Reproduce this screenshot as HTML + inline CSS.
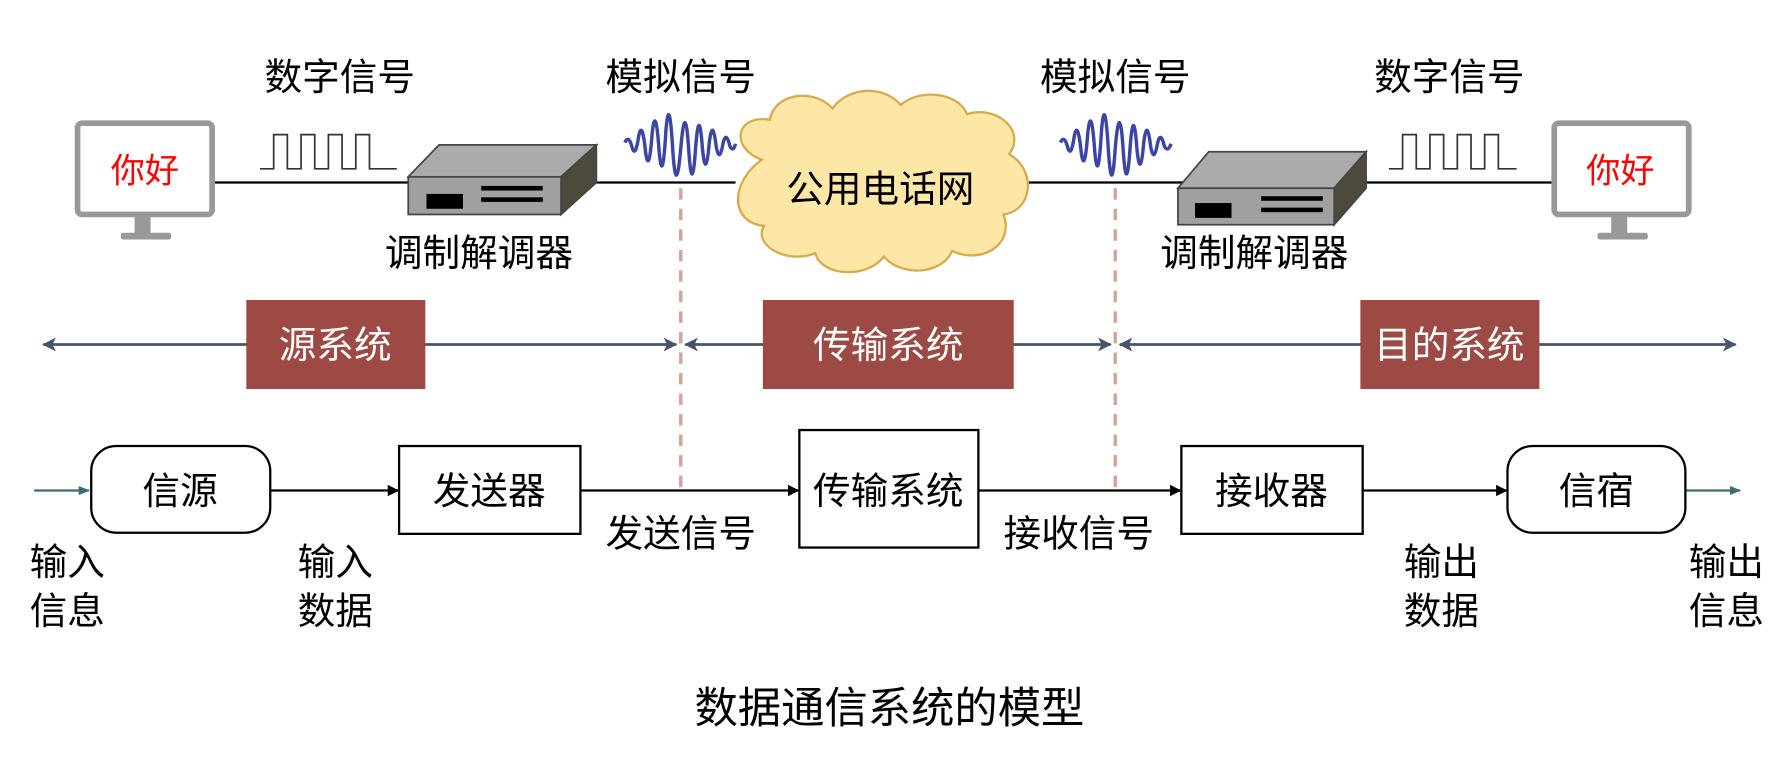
<!DOCTYPE html>
<html><head><meta charset="utf-8"><style>
html,body{margin:0;padding:0;background:#fff;}
svg{display:block;}
text{font-family:"Liberation Sans","Noto Sans CJK SC",sans-serif;}
</style></head><body>
<svg width="1788" height="762" viewBox="0 0 1568 668" preserveAspectRatio="none" xmlns="http://www.w3.org/2000/svg">
<defs>
<marker id="ab" markerWidth="10" markerHeight="10" refX="9" refY="5" orient="auto" markerUnits="userSpaceOnUse"><path d="M0,0 L10,5 L0,10 Z" fill="#000"/></marker>
<marker id="an" markerWidth="12" markerHeight="12" refX="11" refY="6" orient="auto-start-reverse" markerUnits="userSpaceOnUse"><path d="M0,0 L12,6 L0,12 L3,6 Z" fill="#44546a"/></marker>
<marker id="at" markerWidth="10" markerHeight="10" refX="9" refY="5" orient="auto" markerUnits="userSpaceOnUse"><path d="M0,1 L10,5 L0,9 Z" fill="#3c6e71"/></marker>
</defs>
<g font-size="33" fill="#000" text-anchor="middle">
<text x="298" y="79">数字信号</text>
<text x="597" y="79">模拟信号</text>
<text x="978" y="79">模拟信号</text>
<text x="1271" y="79">数字信号</text>
</g>
<line x1="188" y1="160" x2="645" y2="160" stroke="#000" stroke-width="2"/>
<line x1="900" y1="160" x2="1362" y2="160" stroke="#000" stroke-width="2"/>
<g>
<rect x="68" y="108" width="118" height="80" rx="4" fill="#fff" stroke="#999" stroke-width="5"/>
<rect x="118" y="190" width="14" height="15" fill="#999"/><rect x="106" y="204" width="44" height="6" rx="2" fill="#999"/>
<text x="127" y="160" font-size="30" fill="#f00" text-anchor="middle">你好</text>
<rect x="1363" y="108" width="118" height="80" rx="4" fill="#fff" stroke="#999" stroke-width="5"/>
<rect x="1413" y="190" width="14" height="15" fill="#999"/><rect x="1401" y="204" width="44" height="6" rx="2" fill="#999"/>
<text x="1421" y="160" font-size="30" fill="#f00" text-anchor="middle">你好</text>
</g>
<path d="M228,148 H240 V118 H252 V148 H264 V118 H276 V148 H288 V118 H300 V148 H312 V118 H324 V148 H348" fill="none" stroke="#333" stroke-width="1.5"/>
<path d="M1218,148 H1230 V118 H1242 V148 H1254 V118 H1266 V148 H1278 V118 H1290 V148 H1302 V118 H1314 V148 H1330" fill="none" stroke="#333" stroke-width="1.5"/>
<g stroke="#444" stroke-width="1.5">
<polygon points="358,155 385,127 523,127 492,155" fill="#ababab"/>
<polygon points="492,155 523,127 523,160 492,188" fill="#4d4a3c"/>
<rect x="358" y="155" width="134" height="33" fill="#a0a0a0"/>
</g>
<rect x="374" y="170" width="32" height="13" fill="#000"/>
<rect x="422" y="163" width="54" height="4" fill="#000"/><rect x="422" y="173" width="54" height="4" fill="#000"/>
<g stroke="#444" stroke-width="1.5">
<polygon points="1033,165 1060,133 1198,133 1170,165" fill="#ababab"/>
<polygon points="1170,165 1198,133 1198,165 1170,197" fill="#4d4a3c"/>
<rect x="1033" y="165" width="137" height="32" fill="#a0a0a0"/>
</g>
<rect x="1048" y="178" width="32" height="13" fill="#000"/>
<rect x="1106" y="172" width="54" height="4" fill="#000"/><rect x="1106" y="182" width="54" height="4" fill="#000"/>
<g font-size="33" text-anchor="middle"><text x="420" y="233">调制解调器</text><text x="1100" y="233">调制解调器</text></g>
<path d="M548,125 Q551,118 554,128 Q557,140 560,120 Q563,104 566,132 Q569,156 572,116 Q575,90 578,132 Q581,166 584,114 Q587,80 590,132 Q593,176 597,130 Q601,84 604,132 Q607,174 610,130 Q613,90 616,130 Q619,160 622,125 Q625,102 628,128 Q631,144 634,126 Q637,114 640,128 Q643,134 645,126" fill="none" stroke="#3b45a5" stroke-width="3"/>
<path d="M930,125 Q933,118 936,128 Q939,140 942,120 Q945,104 948,132 Q951,156 954,116 Q957,90 960,132 Q963,166 966,114 Q969,80 972,132 Q975,176 978,130 Q982,84 985,132 Q988,174 991,130 Q994,90 997,130 Q1000,160 1003,125 Q1006,102 1009,128 Q1012,144 1015,126 Q1018,114 1021,128 Q1024,134 1027,126" fill="none" stroke="#3b45a5" stroke-width="3"/>
<path d="M668,140 C640,130 645,100 675,105 C680,80 715,78 730,95 C745,75 775,75 790,92 C805,78 840,80 848,100 C875,92 900,115 885,135 C910,150 905,185 880,188 C890,215 860,232 835,220 C825,242 790,242 775,225 C760,245 720,242 715,222 C690,232 660,215 670,198 C640,195 640,160 668,140 Z" fill="#fde7a6" stroke="#d8aa4e" stroke-width="2"/>
<text x="772" y="177" font-size="33" text-anchor="middle">公用电话网</text>
<line x1="597" y1="165" x2="597" y2="430" stroke="#d4a39a" stroke-width="3" stroke-dasharray="10,8"/>
<line x1="978" y1="165" x2="978" y2="430" stroke="#d4a39a" stroke-width="3" stroke-dasharray="10,8"/>
<g stroke="#44546a" stroke-width="2.5">
<line x1="38" y1="302" x2="593" y2="302" marker-start="url(#an)" marker-end="url(#an)"/>
<line x1="601" y1="302" x2="974" y2="302" marker-start="url(#an)" marker-end="url(#an)"/>
<line x1="982" y1="302" x2="1522" y2="302" marker-start="url(#an)" marker-end="url(#an)"/>
</g>
<g fill="#9e4a44"><rect x="216" y="263" width="157" height="78"/><rect x="669" y="263" width="220" height="78"/><rect x="1193" y="263" width="157" height="78"/></g>
<g font-size="33" fill="#fff" text-anchor="middle"><text x="294" y="314">源系统</text><text x="779" y="314">传输系统</text><text x="1271" y="314">目的系统</text></g>
<line x1="30" y1="430" x2="78" y2="430" stroke="#3c6e71" stroke-width="2" marker-end="url(#at)"/>
<line x1="1478" y1="430" x2="1526" y2="430" stroke="#3c6e71" stroke-width="2" marker-end="url(#at)"/>
<g stroke="#000" stroke-width="2" fill="none">
<rect x="80" y="391" width="157" height="76" rx="22"/>
<rect x="350" y="391" width="159" height="77"/>
<rect x="701" y="377" width="157" height="103"/>
<rect x="1036" y="391" width="159" height="77"/>
<rect x="1322" y="391" width="156" height="76" rx="22"/>
<line x1="237" y1="430" x2="349" y2="430" marker-end="url(#ab)"/>
<line x1="509" y1="430" x2="700" y2="430" marker-end="url(#ab)"/>
<line x1="858" y1="430" x2="1035" y2="430" marker-end="url(#ab)"/>
<line x1="1195" y1="430" x2="1321" y2="430" marker-end="url(#ab)"/>
</g>
<g font-size="33" text-anchor="middle">
<text x="158" y="442">信源</text><text x="429" y="442">发送器</text><text x="779" y="442">传输系统</text><text x="1115" y="442">接收器</text><text x="1400" y="442">信宿</text>
<text x="597" y="479">发送信号</text><text x="946" y="479">接收信号</text>
</g>
<g font-size="33">
<text x="26" y="504">输入</text><text x="26" y="547">信息</text>
<text x="261" y="504">输入</text><text x="261" y="547">数据</text>
<text x="1231" y="504">输出</text><text x="1231" y="547">数据</text>
<text x="1481" y="504">输出</text><text x="1481" y="547">信息</text>
</g>
<text x="780" y="634" font-size="38" text-anchor="middle">数据通信系统的模型</text>
</svg>
</body></html>
